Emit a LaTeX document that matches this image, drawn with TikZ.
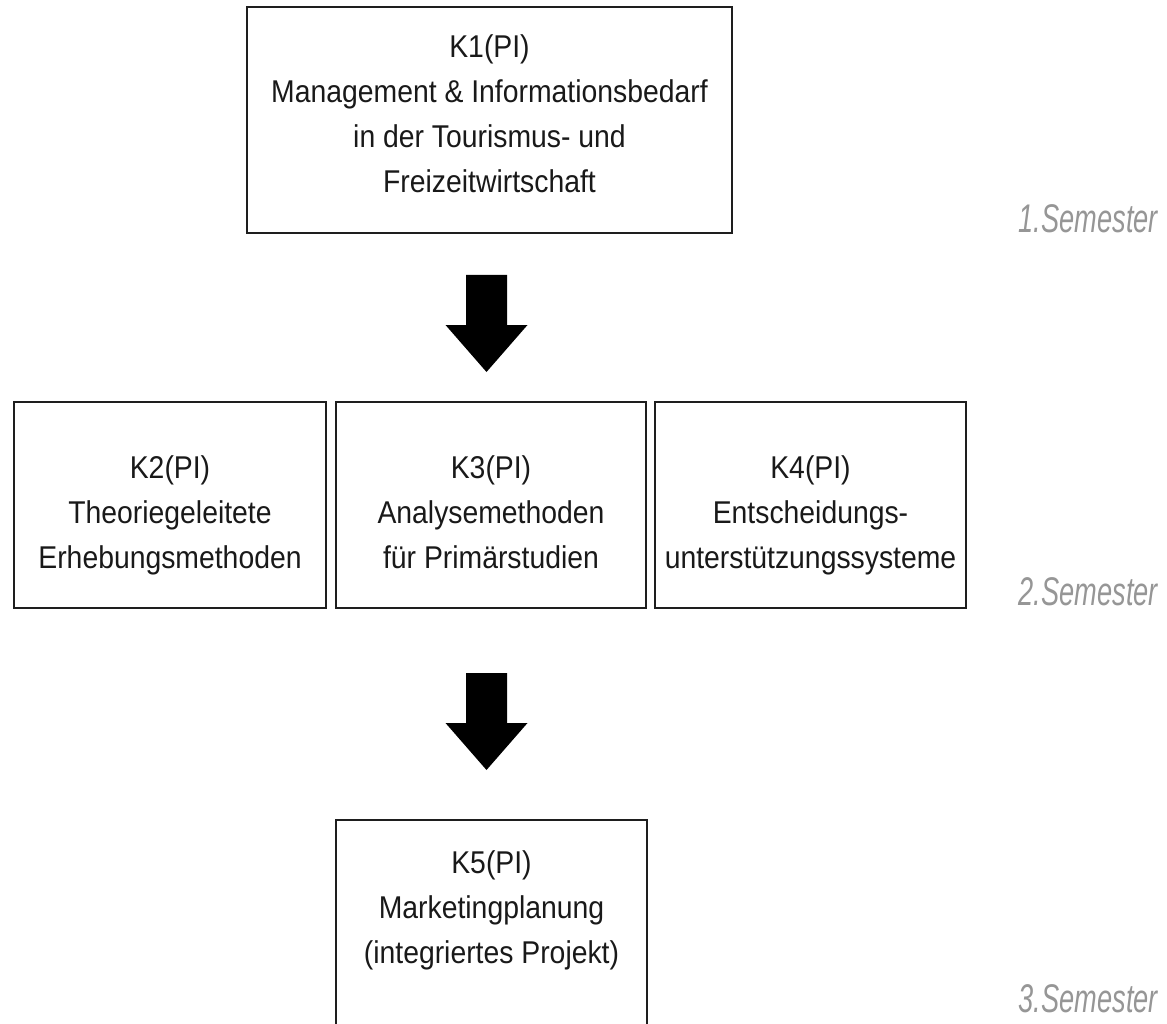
\documentclass[tikz,border=0pt]{standalone}
\usepackage{fontspec}
\setmainfont[FakeStretch=0.9]{Liberation Sans}
\newfontfamily\semfont[FakeStretch=0.68]{Liberation Sans}
\usetikzlibrary{calc}

\definecolor{semgray}{RGB}{150,150,150}
\definecolor{boxline}{RGB}{30,30,30}

\tikzset{
  kbox/.style={draw=boxline, line width=1.8pt, inner sep=0pt, minimum width=311pt, minimum height=206pt},
  ktext/.style={anchor=north, inner sep=0pt, align=center, text=black!90, font=\fontsize{31.5}{45}\selectfont},
  semlabel/.style={anchor=base east, inner sep=0pt, text=semgray, font=\semfont\itshape\fontsize{40}{44}\selectfont},
  blockdown/.pic={
    \fill[black] (-20.5,0) -- (20.5,0) -- (20.5,50) -- (41,50) -- (0,97) -- (-41,50) -- (-20.5,50) -- cycle;
  }
}

\begin{document}
\begin{tikzpicture}[x=1pt,y=-1pt]
        \useasboundingbox (0,0) rectangle (1167,1024);

        % 1. Semester
        \node[kbox, minimum width=485pt, minimum height=226pt] (k1) at (489.5,120) {};
        \node[ktext] (k1txt) at ($(k1.north)+(0,28)$) {K1(PI)\\Management \& Informationsbedarf\\in der Tourismus- und\\Freizeitwirtschaft};
        \node[semlabel] (sem1) at (1158,233) {1.Semester};

        \coordinate (a1) at (486.5,275);
        \pic at (a1) {blockdown};

        % 2. Semester
        \node[kbox, minimum width=312pt] (k2) at (170,505) {};
        \node[kbox, minimum width=310pt] (k3) at (491,505) {};
        \node[kbox] (k4) at (810.5,505) {};
        \node[ktext] (k2txt) at ($(k2.north)+(0,54)$) {K2(PI)\\Theoriegeleitete\\Erhebungsmethoden};
        \node[ktext] (k3txt) at ($(k3.north)+(0,54)$) {K3(PI)\\Analysemethoden\\für Primärstudien};
        \node[ktext] (k4txt) at ($(k4.north)+(0,54)$) {K4(PI)\\Entscheidungs-\\unterstützungssysteme};
        \node[semlabel] (sem2) at (1158,605) {2.Semester};

        \coordinate (a2) at (486.5,673);
        \pic at (a2) {blockdown};

        % 3. Semester
        \node[kbox] (k5) at (491.5,923) {};
        \node[ktext] (k5txt) at ($(k5.north)+(0,31)$) {K5(PI)\\Marketingplanung\\(integriertes Projekt)};
        \node[semlabel] (sem3) at (1158,1012) {3.Semester};
    \end{tikzpicture}
\end{document}
